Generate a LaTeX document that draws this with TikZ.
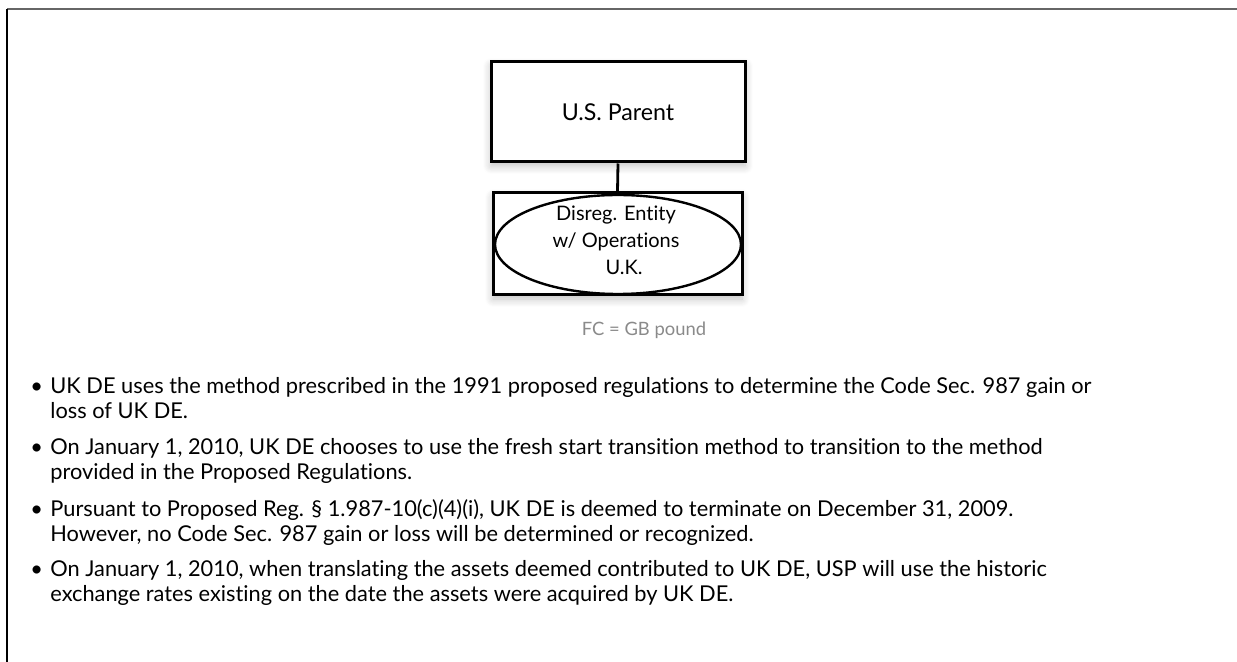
\documentclass[tikz,border=0pt]{standalone}
\usepackage{fontspec}
\setmainfont[Ligatures=NoCommon]{Lato}
\usetikzlibrary{shapes.geometric,shadows.blur}
\definecolor{framegray}{HTML}{666666}
\definecolor{notegray}{HTML}{8A8A8A}
\newcommand{\bl}{\makebox[10pt][l]{•}}
\newcommand{\ind}{\hspace*{10pt}}
\begin{document}
\begin{tikzpicture}[x=0.5pt,y=-0.5pt,
  entbox/.style={draw=black,line width=1.5pt,fill=white,inner sep=0pt,
    blur shadow={shadow blur steps=8,shadow xshift=0pt,shadow yshift=-2pt,shadow opacity=25,shadow blur radius=4pt}},
  bul/.style={anchor=north west,inner sep=0pt,align=left,font=\fontsize{10.9}{12.5}\selectfont}]
\useasboundingbox (0,0) rectangle (1237,662);
% frame
\draw[framegray,line width=1.1pt] (7,9) -- (1237,9);
\draw[black,line width=0.8pt] (7,9) -- (7,662);
% entities
\node[entbox,minimum width=127pt,minimum height=50pt,font=\fontsize{11.6}{13}\selectfont] (usp) at (618,112) {U.S. Parent};
\node[entbox,minimum width=124.5pt,minimum height=51pt] (de) at (617.5,244) {};
\node[ellipse,draw=black,line width=1.2pt,minimum width=123pt,minimum height=49.5pt,inner sep=0pt] (ell) at (618,244.5) {};
\node[align=center,inner sep=0pt,font=\fontsize{10}{13.5}\selectfont] (elltxt) at (616,240) {Disreg. Entity\\w/ Operations\\\hspace*{8pt}U.K.};
\draw[black,line width=1.4pt] (usp.south) -- (de.north);
\node[notegray,inner sep=0pt,font=\fontsize{9.2}{11}\selectfont] (fc) at (644,330) {FC = GB pound};
% bullets
\node[bul] (t1) at (30,377) {\bl UK DE uses the method prescribed in the 1991 proposed regulations to determine the Code Sec. 987 gain or\\\ind loss of UK DE.};
\node[bul] (t2) at (30,438) {\bl On January 1, 2010, UK DE chooses to use the fresh start transition method to transition to the method\\\ind provided in the Proposed Regulations.};
\node[bul] (t3) at (30,499) {\bl Pursuant to Proposed Reg. § 1.987-10(c)(4)(i), UK DE is deemed to terminate on December 31, 2009.\\\ind However, no Code Sec. 987 gain or loss will be determined or recognized.};
\node[bul] (t4) at (30,560) {\bl On January 1, 2010, when translating the assets deemed contributed to UK DE, USP will use the historic\\\ind exchange rates existing on the date the assets were acquired by UK DE.};
\end{tikzpicture}
\end{document}
